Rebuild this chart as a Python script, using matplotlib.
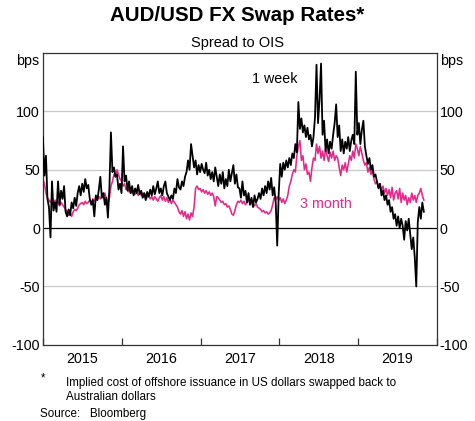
"""
AUD/USD FX swap rates, spread to OIS (1 week and 3 month), RBA-style chart.
"""
import pandas as pd
import matplotlib.pyplot as plt
import matplotlib.dates as mdates

plt.rcParams['font.family'] = ['Liberation Sans', 'DejaVu Sans']

dates = pd.date_range('2015-01-02', periods=253, freq='7D')

one_week = [
    # 2015
    78, 45, 62, 25, 18, -8, 40, 15, 22, 14, 40, 20, 32,
    25, 36, 14, 10, 16, 11, 22, 17, 26, 19, 30, 36, 28,
    38, 31, 42, 34, 37, 25, 20, 24, 10, 28, 24, 33, 44,
    26, 30, 20, 26, 9, 35, 82, 48, 52, 44, 46, 33, 38,
    # 2016
    30, 70, 40, 45, 32, 40, 30, 36, 28, 34, 30, 37, 29,
    32, 26, 30, 24, 31, 27, 33, 28, 36, 29, 34, 40, 30,
    34, 28, 36, 40, 30, 27, 24, 28, 25, 34, 30, 42, 35,
    33, 40, 36, 44, 48, 58, 50, 72, 62, 52, 58, 46, 54,
    # 2017
    48, 55, 50, 47, 56, 45, 50, 42, 48, 40, 52, 44, 36,
    46, 38, 48, 34, 42, 36, 50, 40, 47, 54, 38, 46, 35,
    34, 26, 40, 28, 32, 22, 30, 20, 26, 18, 28, 22, 25,
    30, 25, 34, 28, 36, 30, 40, 33, 43, 28, 35, 22, -15,
    # 2018
    30, 55, 44, 56, 50, 58, 52, 60, 54, 64, 60, 72, 65,
    108, 85, 94, 82, 88, 78, 86, 76, 80, 70, 78, 95, 140,
    90, 110, 141, 80, 92, 66, 76, 64, 74, 68, 80, 90, 106,
    78, 88, 66, 76, 64, 74, 68, 78, 66, 75, 80, 72, 134,
    # 2019
    80, 90, 72, 84, 92, 70, 62, 55, 60, 50, 54, 44, 46,
    40, 34, 38, 28, 32, 24, 28, 20, 24, 14, 18, 8, 12,
    2, 10, 0, 8, 2, -10, 6, -2, 8, -5, -18, -8, -25,
    -50, 5, 18, 8, 22, 14,
]

three_month = [
    # 2015
    42, 38, 30, 26, 24, 22, 25, 20, 24, 21, 23, 19, 22,
    20, 18, 16, 14, 11, 13, 10, 14, 16, 15, 17, 20, 21,
    22, 20, 23, 21, 22, 24, 22, 25, 23, 26, 24, 27, 25,
    28, 26, 30, 25, 21, 26, 36, 40, 46, 44, 50, 46, 42,
    # 2016
    40, 36, 38, 33, 35, 31, 34, 30, 32, 29, 31, 28, 30,
    28, 30, 27, 29, 26, 28, 25, 27, 24, 27, 25, 23, 26,
    28, 24, 27, 23, 26, 22, 25, 21, 24, 22, 20, 18, 14,
    12, 15, 10, 14, 8, 12, 7, 13, 10, 18, 34, 36, 33,
    # 2017
    34, 31, 33, 30, 32, 29, 31, 28, 30, 27, 19, 27, 26,
    24, 22, 23, 20, 21, 18, 19, 16, 12, 11, 15, 20, 23,
    22, 24, 21, 23, 20, 22, 24, 21, 22, 20, 19, 21, 18,
    17, 16, 14, 15, 13, 14, 12, 13, 15, 20, 26, 24, 27,
    # 2018
    24, 26, 22, 25, 21, 24, 28, 36, 40, 46, 50, 48, 62,
    70, 75, 58, 62, 50, 55, 46, 48, 40, 52, 60, 58, 72,
    64, 70, 60, 66, 58, 68, 62, 57, 65, 60, 66, 58, 62,
    60, 52, 45, 54, 50, 56, 48, 55, 62, 58, 66, 60, 72,
    # 2019
    68, 62, 70, 64, 58, 54, 56, 48, 52, 46, 50, 42, 38,
    40, 35, 38, 32, 36, 30, 34, 28, 33, 26, 35, 24, 30,
    32, 25, 34, 22, 30, 24, 28, 20, 26, 22, 30, 24, 28,
    22, 28, 30, 34, 28, 24,
]

years = [2015, 2016, 2017, 2018, 2019]
yticks = [-100, -50, 0, 50, 100]

pink = '#E3298C'
fs = 10.3

fig = plt.figure(figsize=(4.75, 4.21), dpi=100)
fig.patch.set_facecolor('white')
ax = fig.add_axes([0.0899, 0.181, 0.8301, 0.693])

# gridlines and zero line
for v in yticks:
    if v == 0:
        ax.axhline(v, color='black', linewidth=0.9, zorder=1)
    else:
        ax.axhline(v, color='#C8C8C8', linewidth=0.9, zorder=1)

ax.plot(dates, three_month, color=pink, linewidth=1.15, zorder=2)
ax.plot(dates, one_week, color='black', linewidth=1.3, zorder=3)

ax.set_xlim(pd.Timestamp('2015-01-01'), pd.Timestamp('2020-01-01'))
ax.set_ylim(-100, 150)

# x axis: tick marks at year boundaries, labels mid-year
ax.xaxis.set_major_locator(mdates.YearLocator())
ax.xaxis.set_major_formatter(plt.NullFormatter())
ax.set_xticks([pd.Timestamp(f'{y}-07-02') for y in years], minor=True)
ax.set_xticklabels([str(y) for y in years], minor=True)
ax.tick_params(axis='x', which='major', direction='in', length=5, width=0.9, color='#333333')
ax.tick_params(axis='x', which='minor', length=0, labelsize=fs, pad=5)

# y axis labels on both sides
ax.set_yticks(yticks)
ax.set_yticklabels([str(v) for v in yticks])
ax.tick_params(axis='y', which='both', length=0, labelsize=fs, pad=2,
               left=True, right=True, labelleft=True, labelright=True)

for s in ax.spines.values():
    s.set_linewidth(0.9)
    s.set_color('#333333')

ax.text(-0.008, 143, 'bps', transform=ax.get_yaxis_transform(), ha='right', va='center', fontsize=fs)
ax.text(1.008, 143, 'bps', transform=ax.get_yaxis_transform(), ha='left', va='center', fontsize=fs)

# series labels
ax.text(pd.Timestamp('2017-08-29'), 128, '1 week', color='black', fontsize=fs, va='center')
ax.text(pd.Timestamp('2018-04-05'), 21, '3 month', color=pink, fontsize=fs, va='center')

# titles
fig.text(0.5, 0.963, 'AUD/USD FX Swap Rates*', ha='center', va='center', fontsize=14.8, fontweight='bold')
fig.text(0.5, 0.898, 'Spread to OIS', ha='center', va='center', fontsize=10.5)

# footnotes
fig.text(0.087, 0.102, '*', ha='left', va='center', fontsize=8.4)
fig.text(0.14, 0.0903, 'Implied cost of offshore issuance in US dollars swapped back to',
         ha='left', va='center', fontsize=8.4)
fig.text(0.14, 0.057, 'Australian dollars', ha='left', va='center', fontsize=8.4)
fig.text(0.084, 0.0166, 'Source:   Bloomberg', ha='left', va='center', fontsize=8.4)

plt.savefig('out.png', dpi=100, facecolor='white')
